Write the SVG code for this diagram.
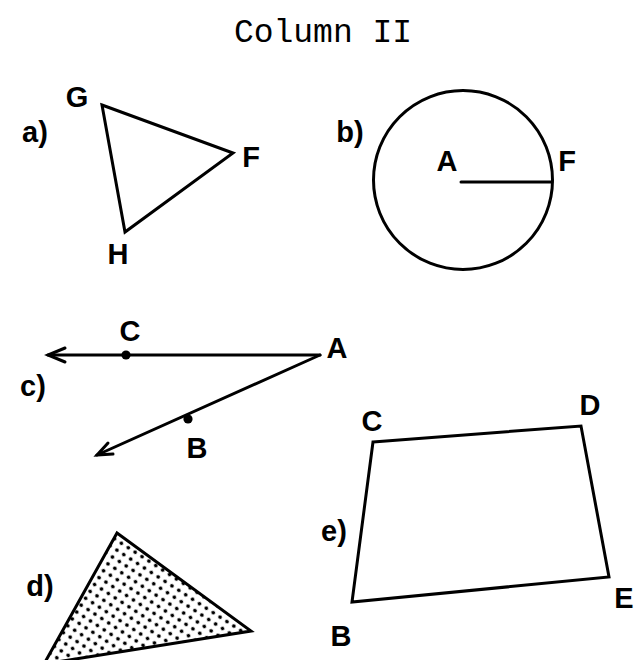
<svg xmlns="http://www.w3.org/2000/svg" width="635" height="660" viewBox="0 0 635 660">
<style>
.ln{fill:none;stroke:#000;stroke-width:3;stroke-linejoin:miter;stroke-linecap:round}
.lb{font-family:"Liberation Sans",Arial,sans-serif;font-weight:bold;font-size:29px;fill:#000;text-anchor:middle}
.tt{font-family:"Liberation Mono","Courier New",monospace;font-size:33px;fill:#000;text-anchor:middle}
.dot{fill:#000}
</style>
<defs>
<pattern id="dots" width="8.2" height="8.2" patternUnits="userSpaceOnUse" patternTransform="rotate(33)">
<rect width="8.2" height="8.2" fill="#fff"/>
<circle cx="4.1" cy="4.1" r="1.9" fill="#000"/>
</pattern>
</defs>
<rect width="635" height="660" fill="#fff"/>
<text class="tt" x="323" y="42">Column II</text>

<g id="fig-a">
<polygon class="ln" points="102,105 233,153 125,232"/>
<text class="lb" x="35" y="142">a)</text>
<text class="lb" x="77" y="107">G</text>
<text class="lb" x="251" y="167">F</text>
<text class="lb" x="118" y="264">H</text>
</g>

<g id="fig-b">
<ellipse class="ln" cx="463" cy="180" rx="89.5" ry="89.5"/>
<line class="ln" x1="461" y1="182" x2="552" y2="182"/>
<text class="lb" x="350" y="142">b)</text>
<text class="lb" x="447" y="171">A</text>
<text class="lb" x="567" y="171">F</text>
</g>

<g id="fig-c">
<line class="ln" x1="48" y1="355" x2="320" y2="355"/>
<line class="ln" x1="320" y1="355" x2="97" y2="455"/>
<polyline class="ln" points="65,348 48,355 65,362"/>
<polyline class="ln" points="113,454 97,455 108,443"/>
<circle class="dot" cx="126" cy="355" r="4.6"/>
<circle class="dot" cx="188" cy="419" r="4.6"/>
<text class="lb" x="33" y="396">c)</text>
<text class="lb" x="130" y="341">C</text>
<text class="lb" x="337" y="358">A</text>
<text class="lb" x="197" y="458">B</text>
</g>

<g id="fig-d">
<polygon class="ln" points="117,533 251,631 44,664" style="fill:url(#dots)"/>
<text class="lb" x="40" y="596">d)</text>
</g>

<g id="fig-e">
<polygon class="ln" points="373,442 581,426 609,577 352,602"/>
<text class="lb" x="334" y="541">e)</text>
<text class="lb" x="372" y="431">C</text>
<text class="lb" x="590" y="415">D</text>
<text class="lb" x="624" y="608">E</text>
<text class="lb" x="341" y="646">B</text>
</g>
</svg>
